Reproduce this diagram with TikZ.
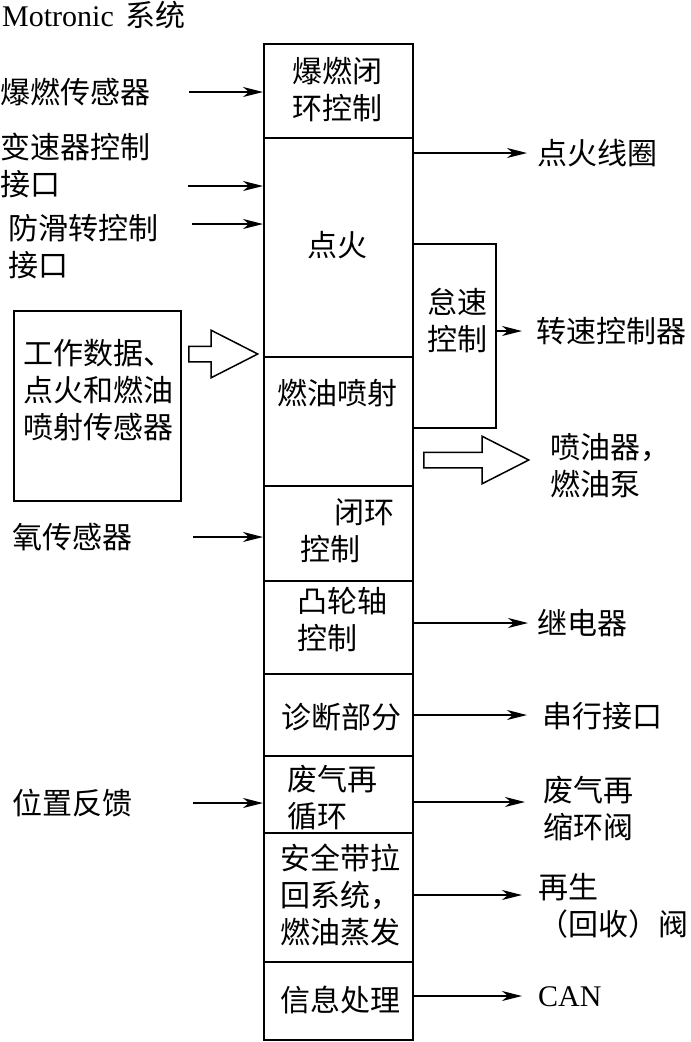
\documentclass[tikz,border=0pt]{standalone}
\usepackage{fontspec}
\setmainfont{Liberation Serif}
\newfontfamily\cjk{Noto Sans CJK SC}
\usepackage{tikz}
\usetikzlibrary{arrows.meta, shapes.arrows}

\begin{document}
\begin{tikzpicture}[x=1pt, y=-1pt,
  every node/.style={inner sep=0pt},
  txt/.style={font=\cjk\fontsize{30}{37}\selectfont, align=left},
  lat/.style={font=\fontsize{30}{37}\selectfont},
  blk/.style={draw, line width=1.8pt, minimum width=149pt, anchor=north west},
  sig/.style={-{Stealth[length=20pt, width=10pt, inset=6pt]}, line width=1.6pt},
  fat/.style={draw, line width=1.5pt, single arrow, inner sep=7pt,
    single arrow head extend=16pt, single arrow tip angle=54, anchor=west}]

\useasboundingbox (0,0) rectangle (691,1042);

% Titulo
\node[lat, anchor=west] (title) at (2,15) {Motronic\hspace{12pt}{\cjk 系统}};

% Coluna principal
\foreach \n/\t/\h in {b1/43/94, b2/137/219, b3/356/129, b4/485/95, b5/580/93,
                      b6/673/82, b7/755/77, b8/832/129, b9/961/78}
  \node[blk, minimum height=\h pt] (\n) at (263,\t) {};

\node[txt, align=center] (k1) at (337,90) {爆燃闭\\环控制};
\node[txt] (k2) at (337,245) {点火};
\node[txt] (k3) at (337,393) {燃油喷射};
\node[txt, anchor=west] (k4) at (300,531) {\hspace*{34pt}闭环\\控制};
\node[txt, anchor=west] (k5) at (297,620) {凸轮轴\\控制};
\node[txt] (k6) at (341,717) {诊断部分};
\node[txt, anchor=west] (k7) at (287,798) {废气再\\循环};
\node[txt, anchor=west] (k8) at (280,895) {安全带拉\\回系统，\\燃油蒸发};
\node[txt, anchor=west] (k9) at (280,1000) {信息处理};

%怠速控制
\node[draw, line width=1.8pt, minimum width=83pt, minimum height=184pt,
  anchor=north west] (idle) at (412,243) {};
\node[txt, align=center] (idletxt) at (457,321) {怠速\\控制};

% Entradas
\node[txt, anchor=west] (n1) at (0,92) {爆燃传感器};
\node[txt, anchor=west] (n2) at (0,165) {变速器控制\\接口};
\node[txt, anchor=west] (n3) at (8,247) {防滑转控制\\接口};
\node[txt, anchor=west] (n4) at (12,537) {氧传感器};
\node[txt, anchor=west] (n5) at (12,803) {位置反馈};

\node[draw, line width=1.8pt, minimum width=167pt, minimum height=190pt,
  anchor=north west] (sbox) at (13,310) {};
\node[txt, anchor=west] (stxt) at (23,390) {工作数据、\\点火和燃油\\喷射传感器};

\coordinate (e1) at (189,92);
\coordinate (e2) at (188,186);
\coordinate (e3) at (192,224);
\coordinate (e4) at (193,537);
\coordinate (e5) at (193,803);
\foreach \c/\b in {e1/b1, e2/b2, e3/b2, e4/b4, e5/b7}
  \draw[sig] (\c) -- (\c -| \b.west);

\node[fat, minimum height=69pt] (fin) at (188,354) {};

% Saidas
\node[txt, anchor=west] (coil) at (537,153) {点火线圈};
\node[txt, anchor=west] (speed) at (536,331) {转速控制器};
\node[txt, anchor=west] (inj) at (550,466) {喷油器，\\燃油泵};
\node[txt, anchor=west] (relay) at (537,623) {继电器};
\node[txt, anchor=west] (serial) at (542,716) {串行接口};
\node[txt, anchor=west] (egrv) at (543,809) {废气再\\缩环阀};
\node[txt, anchor=west] (regen) at (538,906) {再生\\（回收）阀};
\node[lat, anchor=west] (can) at (538,997) {CAN};

\coordinate (s1) at (527,153);
\coordinate (s2) at (522,331);
\coordinate (s3) at (528,623);
\coordinate (s4) at (527,715);
\coordinate (s5) at (525,802);
\coordinate (s6) at (522,895);
\coordinate (s7) at (522,996);
\foreach \c/\b in {s1/b2, s2/idle, s3/b5, s4/b6, s5/b7, s6/b8, s7/b9}
  \draw[sig] (\c -| \b.east) -- (\c);

\node[fat, minimum height=105pt] (fout) at (423,460) {};

\end{tikzpicture}
\end{document}
